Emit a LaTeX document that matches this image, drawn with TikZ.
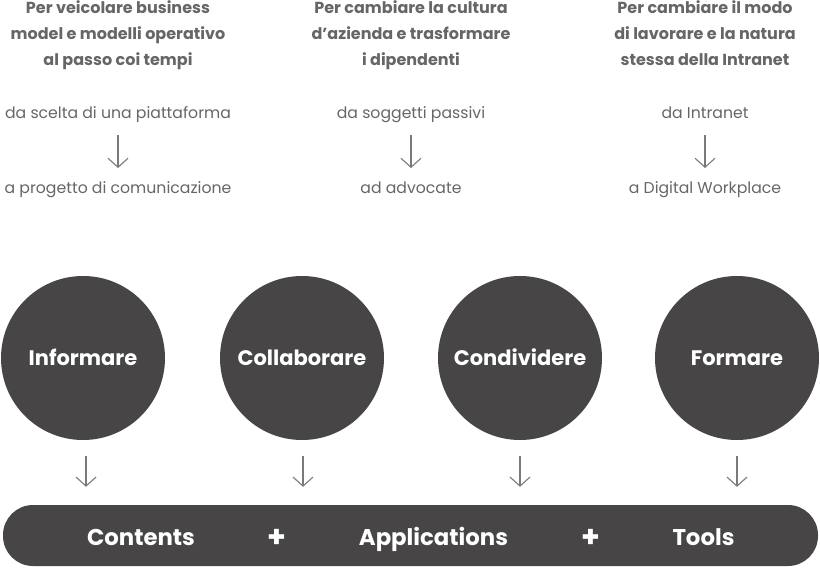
\documentclass[tikz,border=0pt]{standalone}
\usepackage{fontspec}
\setmainfont{Poppins}
\usepackage{xcolor}
\usetikzlibrary{arrows.meta,positioning}
\definecolor{ballgray}{HTML}{474546}
\definecolor{txtgray}{HTML}{666666}
\definecolor{arrgray}{HTML}{7A7A7A}

\begin{document}
\begin{tikzpicture}[
    x=1pt, y=-1pt,
    font=\fontsize{15.7}{26}\selectfont,
    goal/.style={text=txtgray, align=center, font=\fontsize{16}{26}\selectfont\bfseries},
    change/.style={text=txtgray, align=center, inner sep=0pt, anchor=base},
    ball/.style={circle, fill=ballgray, minimum size=164pt, inner sep=0pt,
                 text height=15pt, text depth=0pt,
                 text=white, font=\fontsize{21}{24}\selectfont\bfseries},
    bar/.style={fill=ballgray, rounded corners=30pt, minimum width=815pt,
                minimum height=61pt, inner sep=0pt},
    barlabel/.style={text=white, anchor=base, inner sep=0pt,
                     font=\fontsize{22.8}{26}\selectfont\bfseries},
    arr/.style={-{Straight Barb[length=9pt,width=20pt]}, draw=arrgray, line width=1.1pt},
  ]
  \useasboundingbox (0,0) rectangle (820,568);

  % top: three goals, each with a change from -> to
  \node[goal] (goalA) at (118,35) {Per veicolare business\\ model e modelli operativo\\ al passo coi tempi};
  \node[goal] (goalB) at (411,35) {Per cambiare la cultura\\ d’azienda e trasformare\\ i dipendenti};
  \node[goal] (goalC) at (705,33) {Per cambiare il modo\\ di lavorare e la natura\\ stessa della Intranet};

  \node[change] (fromA) at (118,118) {da scelta di una piattaforma};
  \node[change] (fromB) at (411,118) {da soggetti passivi};
  \node[change] (fromC) at (705,118) {da Intranet};

  \node[change] (toA) at (118,193) {a progetto di comunicazione};
  \node[change] (toB) at (411,193) {ad advocate};
  \node[change] (toC) at (705,193) {a Digital Workplace};

  \draw[arr] ([yshift=-17pt]fromA.base) -- ([yshift=25pt]toA.base);
  \draw[arr] ([yshift=-17pt]fromB.base) -- ([yshift=25pt]toB.base);
  \draw[arr] ([yshift=-17pt]fromC.base) -- ([yshift=25pt]toC.base);

  % circles
  \node[ball] (informare) at (83,358) {Informare};
  \node[ball] (collaborare) at (302,358) {Collaborare};
  \node[ball] (condividere) at (520,358) {Condividere};
  \node[ball] (formare) at (737,358) {Formare};

  % bottom bar
  \node[bar] (bar) at (410.5,535.5) {};
  \node[barlabel] (contents) at (141,545) {Contents};
  \node[barlabel, font=\fontsize{30}{30}\selectfont\bfseries] (plusA) at (277,547) {+};
  \node[barlabel] (apps) at (433.5,545) {Applications};
  \node[barlabel, font=\fontsize{30}{30}\selectfont\bfseries] (plusB) at (591,547) {+};
  \node[barlabel] (tools) at (703.5,545) {Tools};

  \foreach \c/\dx in {informare/3,collaborare/1,condividere/0,formare/0}
    \draw[arr] ([xshift=\dx pt, yshift=-16pt]\c.south) -- ([xshift=\dx pt, yshift=18pt]bar.north -| \c.south);
\end{tikzpicture}
\end{document}
